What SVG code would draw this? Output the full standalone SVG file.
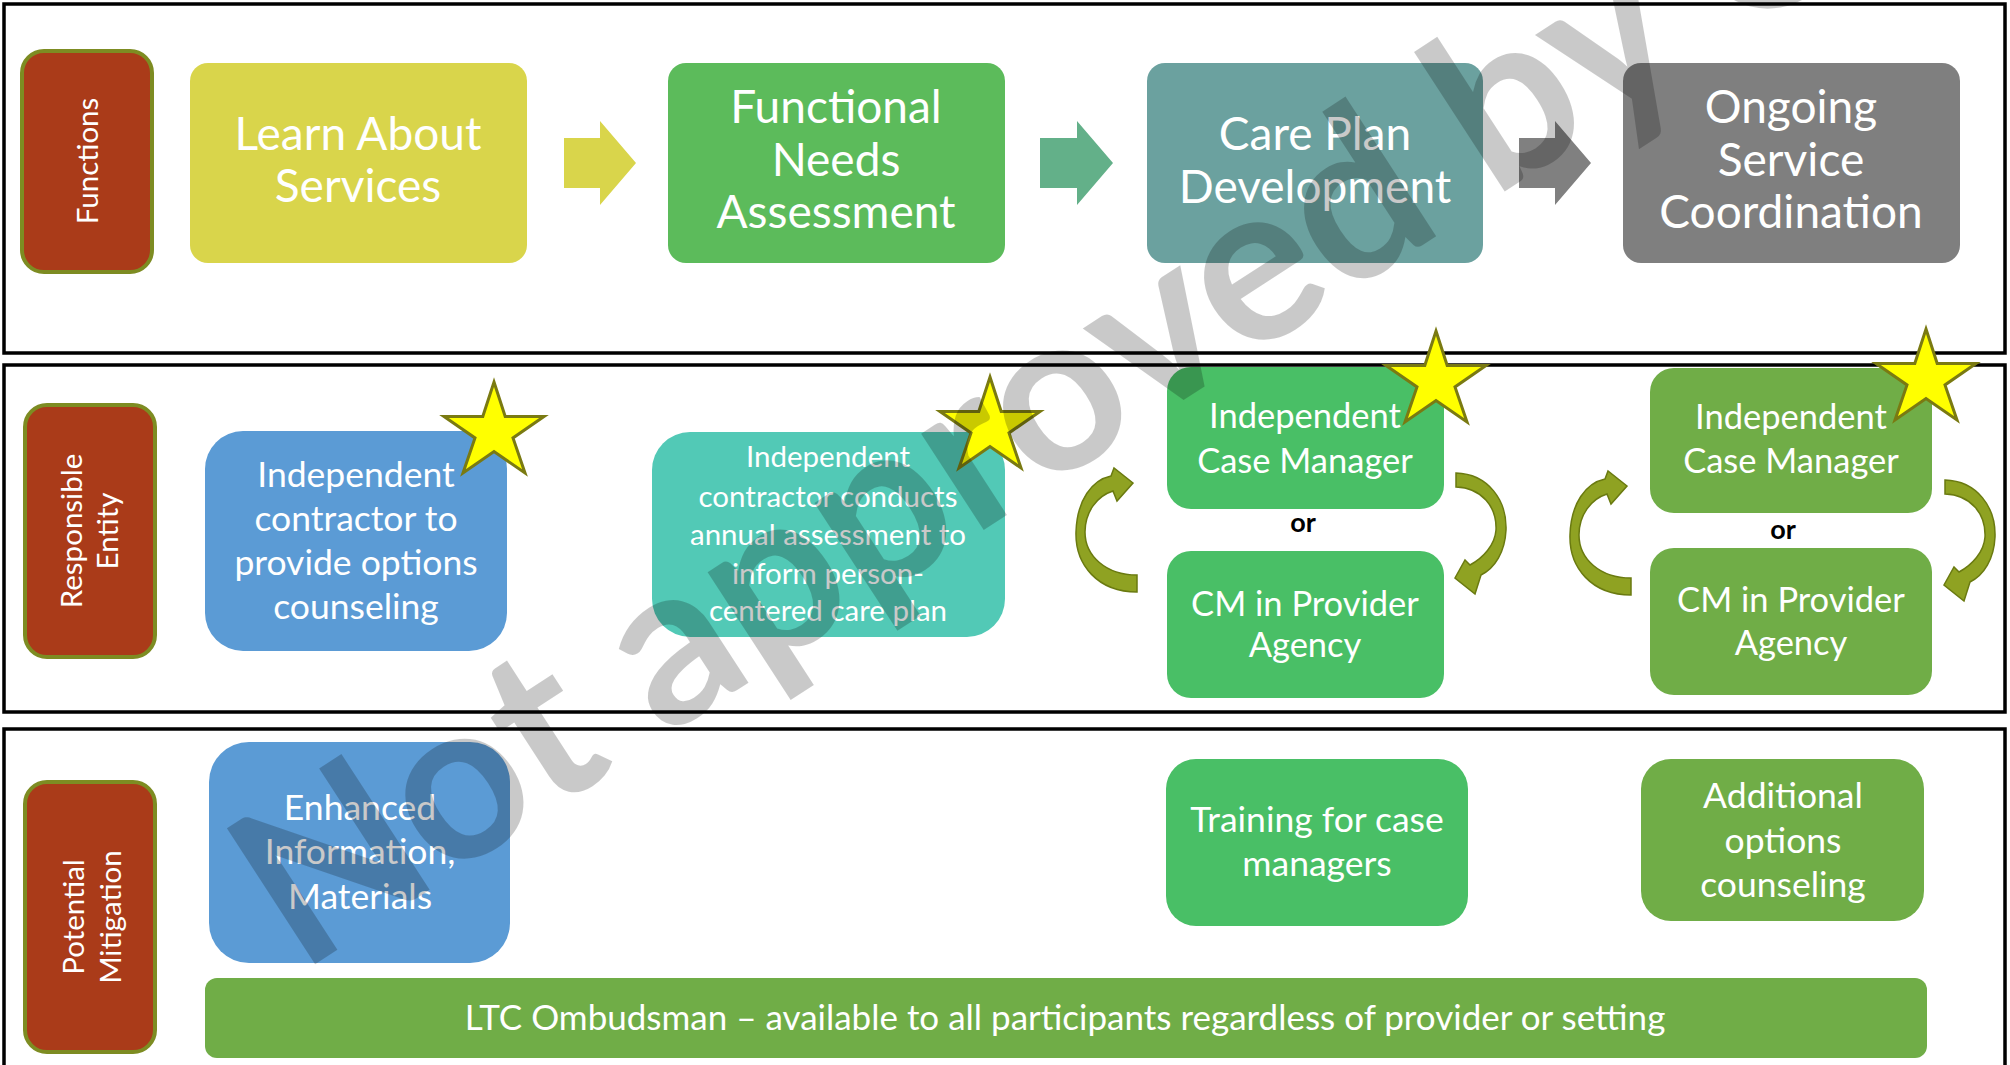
<svg xmlns="http://www.w3.org/2000/svg" width="2010" height="1065" viewBox="0 0 2010 1065">
<style>
.frame{fill:none;stroke:#000;stroke-width:3.5}
.label rect{fill:#aa3b19;stroke:#7d8c22;stroke-width:4}
text{font-family:Lato,"Liberation Sans",sans-serif;fill:#fff;text-anchor:middle}
.lt{font-size:29.5px}
.t44{font-size:46px}
.t34{font-size:34.5px}
.t35{font-size:35.5px}
.t30{font-size:29.5px}
.t32{font-size:35px}
.or{font-size:27px;font-weight:bold;fill:#000}
.carrow{fill:#8fa222;stroke:#6a7a10;stroke-width:1.5}
.star{fill:#ffff00;stroke:#7a7a12;stroke-width:3;stroke-linejoin:miter}
.wm{font-family:Lato,"Liberation Sans",sans-serif;font-weight:bold;font-size:224px;fill:#000;fill-opacity:0.21;text-anchor:start}
</style>
<defs>
<polygon id="starShape" points="0,-50 11.2,-15.5 50,-15.5 19,5.9 31,41 0,19.5 -31,41 -19,5.9 -50,-15.5 -11.2,-15.5"/>
<path id="curveL" d="M1137 592 C1098 592 1075 565 1076 532 C1077 500 1092 480 1111 476 L1114 468 L1133 483 L1117 501 L1113 491 C1097 496 1085 512 1085 532 C1085 556 1106 575 1137 575 Z"/>
<path id="curveR" d="M1456 473 C1488 474 1507 500 1506 530 C1505 552 1495 568 1481 575 L1475 594 L1455 578 L1465 560 L1470 565 C1483 558 1495 545 1496 530 C1497 507 1482 488 1456 487 Z"/>
</defs>
<rect width="2010" height="1065" fill="#fff"/>
<g id="frames">
<rect class="frame" x="4" y="4" width="2001" height="349"/>
<rect class="frame" x="4" y="365" width="2001" height="347"/>
<rect class="frame" x="4" y="729" width="2001" height="345"/>
</g>
<g id="label-functions" class="label">
<rect x="22" y="51" width="130" height="221" rx="22"/>
<text class="lt" transform="translate(98,161) rotate(-90)">Functions</text>
</g>
<g id="label-responsible" class="label">
<rect x="25" y="405" width="130" height="252" rx="22"/>
<text class="lt" transform="translate(82,531) rotate(-90)">Responsible</text>
<text class="lt" transform="translate(118,531) rotate(-90)">Entity</text>
</g>
<g id="label-mitigation" class="label">
<rect x="25" y="782" width="130" height="270" rx="22"/>
<text class="lt" transform="translate(84,917) rotate(-90)">Potential</text>
<text class="lt" transform="translate(121,917) rotate(-90)">Mitigation</text>
</g>
<g id="connectors">
<polygon fill="#d9d54b" points="564,138 600,138 600,121 636,163 600,205 600,188 564,188"/>
<polygon fill="#63b089" points="1040,138 1077,138 1077,121 1113,163 1077,205 1077,188 1040,188"/>
<polygon fill="#808080" points="1519,138 1555,138 1555,121 1591,163 1555,205 1555,188 1519,188"/>
<use href="#curveL" class="carrow"/>
<use href="#curveR" class="carrow"/>
<use href="#curveL" class="carrow" transform="translate(494,3)"/>
<use href="#curveR" class="carrow" transform="translate(489,7)"/>
</g>
<g id="node-learn">
<rect x="190" y="63" width="337" height="200" rx="18" fill="#d9d54b"/>
<text class="t44" x="358" y="150">Learn About</text>
<text class="t44" x="358" y="202">Services</text>
</g>
<g id="node-assessment">
<rect x="668" y="63" width="337" height="200" rx="18" fill="#5cbb5b"/>
<text class="t44" x="836" y="123">Functional</text>
<text class="t44" x="836" y="176">Needs</text>
<text class="t44" x="836" y="228">Assessment</text>
</g>
<g id="node-careplan">
<rect x="1147" y="63" width="336" height="200" rx="18" fill="#6ba19f"/>
<text class="t44" x="1315" y="150">Care Plan</text>
<text class="t44" x="1315" y="203">Development</text>
</g>
<g id="node-ongoing">
<rect x="1623" y="63" width="337" height="200" rx="18" fill="#7f7f7f"/>
<text class="t44" x="1791" y="123">Ongoing</text>
<text class="t44" x="1791" y="176">Service</text>
<text class="t44" x="1791" y="228">Coordination</text>
</g>
<g id="node-options">
<rect x="205" y="431" width="302" height="220" rx="38" fill="#5b9bd5"/>
<text class="t35" x="356" y="487">Independent</text>
<text class="t35" x="356" y="531">contractor to</text>
<text class="t35" x="356" y="575">provide options</text>
<text class="t35" x="356" y="619">counseling</text>
</g>
<g id="node-contractor">
<rect x="652" y="432" width="353" height="205" rx="38" fill="#52c9b6"/>
<text class="t30" x="828" y="467">Independent</text>
<text class="t30" x="828" y="507">contractor conducts</text>
<text class="t30" x="828" y="545">annual assessment to</text>
<text class="t30" x="828" y="584">inform person-</text>
<text class="t30" x="828" y="621">centered care plan</text>
</g>
<g id="node-icm1">
<rect x="1167" y="367" width="277" height="142" rx="24" fill="#49bf66"/>
<text class="t34" x="1305" y="428">Independent</text>
<text class="t34" x="1305" y="473">Case Manager</text>
</g>
<text class="or" x="1303" y="532">or</text>
<g id="node-cm1">
<rect x="1167" y="551" width="277" height="147" rx="24" fill="#49bf66"/>
<text class="t34" x="1305" y="616">CM in Provider</text>
<text class="t34" x="1305" y="657">Agency</text>
</g>
<g id="node-icm2">
<rect x="1650" y="368" width="282" height="145" rx="24" fill="#70ad47"/>
<text class="t34" x="1791" y="429">Independent</text>
<text class="t34" x="1791" y="473">Case Manager</text>
</g>
<text class="or" x="1783" y="539">or</text>
<g id="node-cm2">
<rect x="1650" y="548" width="282" height="147" rx="24" fill="#70ad47"/>
<text class="t34" x="1791" y="612">CM in Provider</text>
<text class="t34" x="1791" y="655">Agency</text>
</g>
<g id="node-enhanced">
<rect x="209" y="742" width="301" height="221" rx="40" fill="#5b9bd5"/>
<text class="t35" x="360" y="820">Enhanced</text>
<text class="t35" x="360" y="864">Information,</text>
<text class="t35" x="360" y="909">Materials</text>
</g>
<g id="node-training">
<rect x="1166" y="759" width="302" height="167" rx="30" fill="#49bf66"/>
<text class="t35" x="1317" y="832">Training for case</text>
<text class="t35" x="1317" y="876">managers</text>
</g>
<g id="node-additional">
<rect x="1641" y="759" width="283" height="162" rx="30" fill="#70ad47"/>
<text class="t35" x="1783" y="808">Additional</text>
<text class="t35" x="1783" y="853">options</text>
<text class="t35" x="1783" y="897">counseling</text>
</g>
<g id="node-ombudsman">
<rect x="205" y="978" width="1722" height="80" rx="12" fill="#70ad47"/>
<text class="t32" x="1065" y="1030">LTC Ombudsman – available to all participants regardless of provider or setting</text>
</g>
<g id="stars">
<use href="#starShape" class="star" transform="translate(494,432)"/>
<use href="#starShape" class="star" transform="translate(990,427)"/>
<use href="#starShape" class="star" transform="translate(1436,381)"/>
<use href="#starShape" class="star" transform="translate(1926,379)"/>
</g>
<g id="watermark">
<text class="wm" transform="translate(300,974) rotate(-33)">Not approved by C</text>
</g>
</svg>
